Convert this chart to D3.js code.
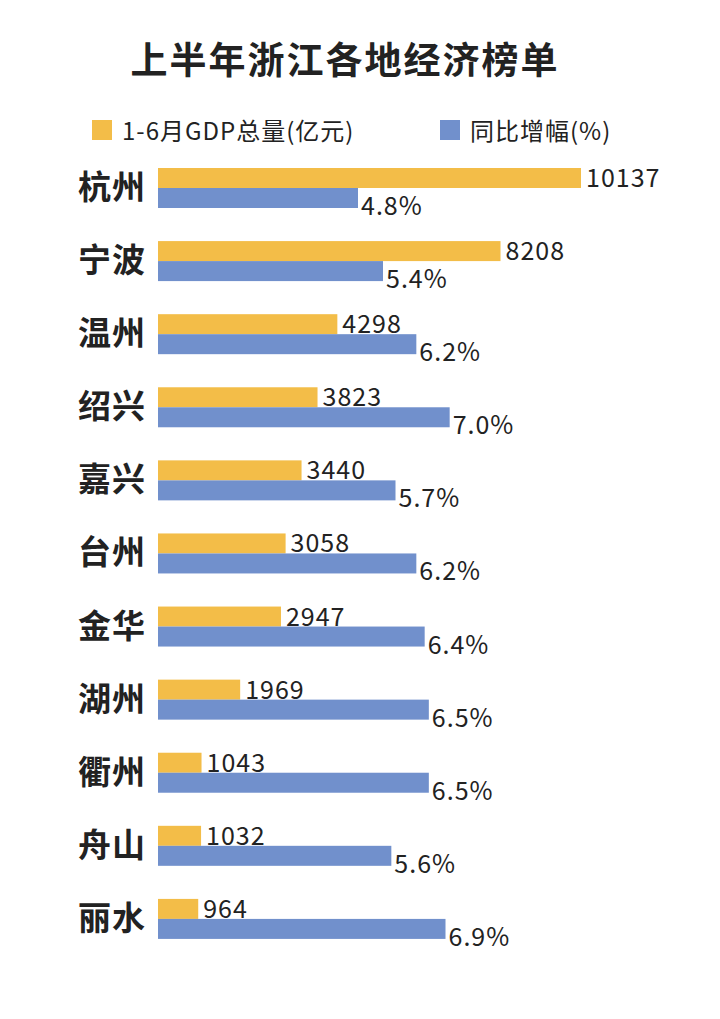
<!DOCTYPE html>
<html><head><meta charset="utf-8">
<script src="https://cdn.jsdelivr.net/npm/d3@7"></script>
<style>body{margin:0;background:#fff}</style>
</head><body>
<svg id="c" width="720" height="1019"></svg>
<script>
const cities=["杭州","宁波","温州","绍兴","嘉兴","台州","金华","湖州","衢州","舟山","丽水"];
const gdp=[10137,8208,4298,3823,3440,3058,2947,1969,1043,1032,964];
const growth=[4.8,5.4,6.2,7.0,5.7,6.2,6.4,6.5,6.5,5.6,6.9];
const title="上半年浙江各地经济榜单";
const legendLabels=["1-6月GDP总量(亿元)","同比增幅(%)"];
const colors=["#F3BD48","#7190CC"];
const font="'Noto Sans CJK SC','Noto Sans',sans-serif";
const svg=d3.select("#c");
svg.append("text").attr("x",345).attr("y",74).attr("text-anchor","middle").attr("font-family",font)
 .attr("font-weight","bold").attr("font-size",37).attr("letter-spacing",2).attr("fill","#222").text(title);
const lx=[92,440];
legendLabels.forEach((t,i)=>{
 svg.append("rect").attr("x",lx[i]).attr("y",120).attr("width",20).attr("height",20).attr("fill",colors[i]);
 svg.append("text").attr("x",lx[i]+30).attr("y",140).attr("font-family",font).attr("font-size",24).attr("letter-spacing",1).attr("fill","#222").text(t);
});
const y=d3.scaleBand().domain(cities).range([158,962]);
const xg=d3.scaleLinear().domain([0,10137]).range([158,581]);
const xp=d3.scaleLinear().domain([0,4.8]).range([158,358]);
const bh=20;
const g=svg.append("g");
cities.forEach((c,i)=>{
 const y0=y(c)+10;
 g.append("rect").attr("x",158).attr("y",y0).attr("width",xg(gdp[i])-158).attr("height",bh).attr("fill",colors[0]);
 g.append("rect").attr("x",158).attr("y",y0+bh).attr("width",xp(growth[i])-158).attr("height",bh).attr("fill",colors[1]);
 g.append("text").attr("x",xg(gdp[i])+5).attr("y",y0+bh-1).attr("font-family",font).attr("font-size",25).attr("letter-spacing",1).attr("fill","#222").text(gdp[i]);
 g.append("text").attr("x",xp(growth[i])+3).attr("y",y0+2*bh+7).attr("font-family",font).attr("font-size",25).attr("letter-spacing",1).attr("fill","#222").text(growth[i].toFixed(1)+"%");
 g.append("text").attr("x",146).attr("y",y0+bh+11).attr("text-anchor","end").attr("font-family",font).attr("font-weight","bold").attr("font-size",33).attr("letter-spacing",1).attr("fill","#222").text(c);
});
</script>
</body></html>
